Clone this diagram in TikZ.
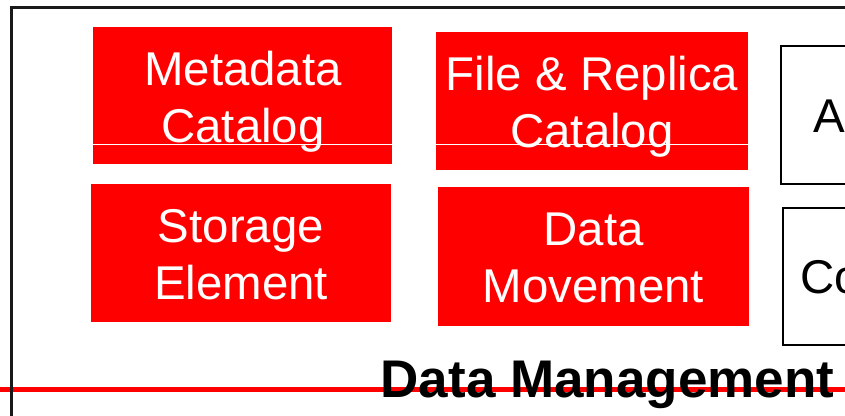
\documentclass[tikz,border=0pt]{standalone}
\usepackage{fontspec}
\setmainfont{Liberation Sans}
\begin{document}
\begin{tikzpicture}[x=1pt,y=-1pt,
  redbox/.style={fill=red, draw=none, anchor=north west, inner sep=0, outer sep=0},
  whitebox/.style={draw=black, line width=2pt, fill=white, anchor=north west, inner sep=0, outer sep=0},
  boxtext/.style={text=white, font=\fontsize{47.4}{57}\selectfont, anchor=base, inner sep=0},
  sidetext/.style={text=black, font=\fontsize{47.4}{57}\selectfont, anchor=base west, inner sep=0},
  sepline/.style={white, line width=1pt},
  frameline/.style={black!90, line width=2.5pt},
  redrule/.style={red, line width=4.5pt},
  titletext/.style={text=black, font=\bfseries\fontsize{53}{60}\selectfont, anchor=base west, inner sep=0}]
\useasboundingbox (0,0) rectangle (845,415);
\clip (0,0) rectangle (845,415);
\fill[white] (0,0) rectangle (845,415);

% red boxes
\node[redbox, minimum width=299, minimum height=137] (meta) at (93,27) {};
\node[redbox, minimum width=312, minimum height=138] (file) at (436,32) {};
\node[redbox, minimum width=300, minimum height=138] (stor) at (91,184) {};
\node[redbox, minimum width=311, minimum height=139] (move) at (438,187) {};

% thin white separator lines
\coordinate (metaL) at (93,144.3);
\coordinate (metaR) at (392,144.3);
\coordinate (fileL) at (436,144.3);
\coordinate (fileR) at (748,144.3);
\draw[sepline] (metaL) -- (metaR);
\draw[sepline] (fileL) -- (fileR);

% box labels
\node[boxtext] (meta1) at (243,85) {Metadata};
\node[boxtext] (meta2) at (243,142) {Catalog};
\node[boxtext] (file1) at (592,90) {File \& Replica};
\node[boxtext] (file2) at (592,147) {Catalog};
\node[boxtext] (stor1) at (241,242) {Storage};
\node[boxtext] (stor2) at (241,299) {Element};
\node[boxtext] (move1) at (593.5,245) {Data};
\node[boxtext] (move2) at (593.5,302.5) {Movement};

% white boxes on the right (cut by the picture edge)
\node[whitebox, minimum width=120, minimum height=138] (auth) at (781,46) {};
\node[whitebox, minimum width=120, minimum height=137] (cons) at (783,208) {};
\node[sidetext] (authtext) at (813,132) {A};
\node[sidetext] (constext) at (800.5,293) {Co};

% red rule, frame and title
\draw[redrule] (0,389.7) -- (845,389.7);
\draw[frameline] (11.3,7.3) rectangle (1000,600);
\node[titletext] (title) at (380.5,397) {Data Management};
\end{tikzpicture}
\end{document}
